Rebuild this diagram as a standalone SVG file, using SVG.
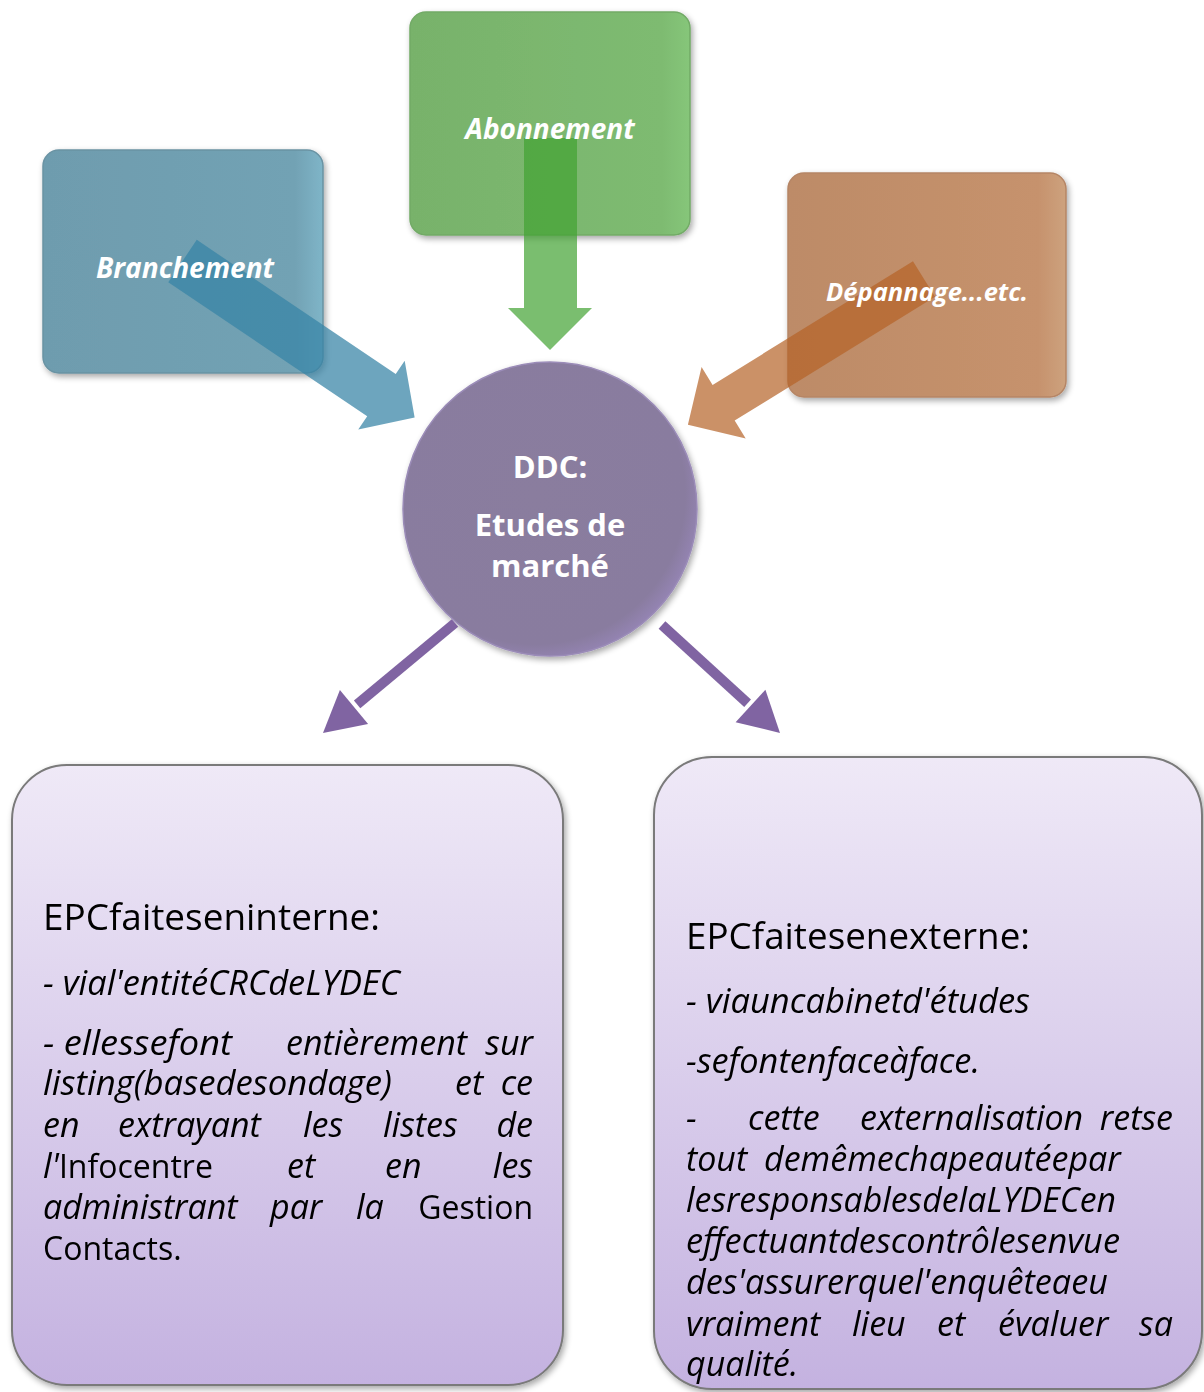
<svg xmlns="http://www.w3.org/2000/svg" width="1204" height="1392" viewBox="0 0 1204 1392">
<defs>
  <filter id="shadow" x="-10%" y="-10%" width="130%" height="130%">
    <feGaussianBlur in="SourceAlpha" stdDeviation="3"/>
    <feOffset dx="2" dy="3" result="b"/>
    <feComponentTransfer><feFuncA type="linear" slope="0.35"/></feComponentTransfer>
    <feMerge><feMergeNode/><feMergeNode in="SourceGraphic"/></feMerge>
  </filter>
  <linearGradient id="gBlue" x1="0" y1="0" x2="1" y2="0">
    <stop offset="0" stop-color="#6e9cae"/><stop offset="0.9" stop-color="#72a2b4"/><stop offset="1" stop-color="#7fb5c8"/>
  </linearGradient>
  <linearGradient id="gGreen" x1="0" y1="0" x2="1" y2="0">
    <stop offset="0" stop-color="#78b26b"/><stop offset="0.9" stop-color="#7ebb71"/><stop offset="1" stop-color="#86c67a"/>
  </linearGradient>
  <linearGradient id="gBrown" x1="0" y1="0" x2="1" y2="0">
    <stop offset="0" stop-color="#bd8b67"/><stop offset="0.9" stop-color="#c6926d"/><stop offset="1" stop-color="#cda27e"/>
  </linearGradient>
  <radialGradient id="gCircle" cx="0.45" cy="0.45" r="0.6">
    <stop offset="0" stop-color="#8a7d9e"/><stop offset="0.85" stop-color="#897c9f"/><stop offset="1" stop-color="#9a88bd"/>
  </radialGradient>
  <linearGradient id="gLav" x1="0" y1="0" x2="0" y2="1">
    <stop offset="0" stop-color="#efe9f7"/><stop offset="1" stop-color="#c4b2e0"/>
  </linearGradient>
  <style>
    .box { stroke-width: 1.5; }
    .lbl { font-family: "Open Sans", "Noto Sans", sans-serif; font-weight: bold; font-style: italic; fill: #ffffff; text-anchor: middle; }
    .ctr { font-family: "Open Sans", "Noto Sans", sans-serif; font-weight: bold; fill: #ffffff; text-anchor: middle; font-size: 31px; }
    .big { stroke: #7a7a7a; stroke-width: 2; fill: url(#gLav); }
    .t { font-family: "Open Sans", "Noto Sans", sans-serif; fill: #000000; font-size: 32px; }
    .h { font-size: 36px; }
    .i { font-style: italic; font-size: 34px; }
    .e { text-anchor: end; }
    .plink { stroke: #8064a2; stroke-width: 10; fill: none; }
    .phead { fill: #8064a2; }
  </style>
</defs>
<rect width="1204" height="1392" fill="#ffffff"/>

<g id="node-branchement" filter="url(#shadow)">
  <rect class="box" x="43" y="150" width="280" height="223" rx="16" fill="url(#gBlue)" stroke="#6a93a3"/>
</g>
<g id="node-abonnement" filter="url(#shadow)">
  <rect class="box" x="410" y="12" width="280" height="223" rx="16" fill="url(#gGreen)" stroke="#72aa66"/>
</g>
<g id="node-depannage" filter="url(#shadow)">
  <rect class="box" x="788" y="173" width="278" height="224" rx="16" fill="url(#gBrown)" stroke="#b58565"/>
</g>
<g id="node-ddc" filter="url(#shadow)">
  <circle cx="550" cy="509" r="147" fill="url(#gCircle)" stroke="#9b8cb8" stroke-width="1.5"/>
</g>

<g id="connectors">
  <path transform="translate(182.5,261) rotate(34)" d="M0,-25.5 L240,-25.5 L240,-41.5 L280,0 L240,41.5 L240,25.5 L0,25.5 Z" fill="#3783a6" fill-opacity="0.73"/>
  <path d="M524,138 L577,138 L577,308 L592,308 L550,350 L508,308 L524,308 Z" fill="#42a232" fill-opacity="0.7"/>
  <path transform="translate(924,279) rotate(148.3)" d="M0,-21 L235.5,-21 L235.5,-42 L277.5,0 L235.5,42 L235.5,21 L0,21 Z" fill="#b56226" fill-opacity="0.7"/>
  <line class="plink" x1="455" y1="623" x2="357.1" y2="704.4"/>
  <polygon class="phead" points="323,733 339.9,690.1 368.1,723.9"/>
  <line class="plink" x1="662" y1="625" x2="747.6" y2="703.3"/>
  <polygon class="phead" points="780,733 765.4,689.8 735.6,722.2"/>
</g>

<g id="labels">
  <text class="lbl" x="185" y="278" font-size="28">Branchement</text>
  <text class="lbl" x="550" y="139" font-size="28">Abonnement</text>
  <text class="lbl" x="927" y="301" font-size="25.5">Dépannage...etc.</text>
  <text class="ctr" x="550" y="478">DDC:</text>
  <text class="ctr" x="550" y="536">Etudes de</text>
  <text class="ctr" x="550" y="577">marché</text>
</g>

<g id="node-interne" filter="url(#shadow)">
  <rect class="big" x="12" y="765" width="551" height="620" rx="55"/>
  <text class="t h" x="43" y="930" textLength="337" lengthAdjust="spacingAndGlyphs">EPCfaiteseninterne:</text>
  <text class="t i" x="43" y="995" textLength="357" lengthAdjust="spacingAndGlyphs">- vial'entitéCRCdeLYDEC</text>
  <text class="t i" x="43" y="1055" textLength="189" lengthAdjust="spacingAndGlyphs">- ellessefont</text>
  <text class="t i" x="286" y="1055">entièrement</text>
  <text class="t i e" x="533" y="1055">sur</text>
  <text class="t i" x="43" y="1095" textLength="349" lengthAdjust="spacingAndGlyphs">listing(basedesondage)</text>
  <text class="t i" x="455" y="1095">et</text>
  <text class="t i e" x="533" y="1095">ce</text>
  <text class="t i" y="1137"><tspan x="43">en</tspan><tspan x="118">extrayant</tspan><tspan x="303">les</tspan><tspan x="383">listes</tspan></text>
  <text class="t i e" x="533" y="1137">de</text>
  <text class="t" y="1178"><tspan x="43" class="i">l'</tspan><tspan>Infocentre</tspan><tspan x="287" class="i">et</tspan><tspan x="385" class="i">en</tspan></text>
  <text class="t i e" x="533" y="1178">les</text>
  <text class="t i" y="1219"><tspan x="43">administrant</tspan><tspan x="270">par</tspan><tspan x="356">la</tspan></text>
  <text class="t e" x="533" y="1219">Gestion</text>
  <text class="t" x="43" y="1260">Contacts.</text>
</g>

<g id="node-externe" filter="url(#shadow)">
  <rect class="big" x="654" y="757" width="548" height="632" rx="58"/>
  <text class="t h" x="686" y="949" textLength="344" lengthAdjust="spacingAndGlyphs">EPCfaitesenexterne:</text>
  <text class="t i" x="686" y="1013" textLength="344" lengthAdjust="spacingAndGlyphs">- viauncabinetd'études</text>
  <text class="t i" x="686" y="1073" textLength="294" lengthAdjust="spacingAndGlyphs">-sefontenfaceàface.</text>
  <text class="t i" y="1130"><tspan x="686">-</tspan><tspan x="748">cette</tspan><tspan x="860">externalisation</tspan></text>
  <text class="t i e" x="1173" y="1130">retse</text>
  <text class="t i" y="1171"><tspan x="686">tout</tspan><tspan x="764">demêmechapeautéepar</tspan></text>
  <text class="t i" x="686" y="1212" textLength="430" lengthAdjust="spacingAndGlyphs">lesresponsablesdelaLYDECen</text>
  <text class="t i" x="686" y="1253" textLength="434" lengthAdjust="spacingAndGlyphs">effectuantdescontrôlesenvue</text>
  <text class="t i" x="686" y="1294" textLength="422" lengthAdjust="spacingAndGlyphs">des'assurerquel'enquêteaeu</text>
  <text class="t i" y="1336"><tspan x="686">vraiment</tspan><tspan x="852">lieu</tspan><tspan x="937">et</tspan><tspan x="998">évaluer</tspan></text>
  <text class="t i e" x="1173" y="1336">sa</text>
  <text class="t i" x="686" y="1376">qualité.</text>
</g>
</svg>
